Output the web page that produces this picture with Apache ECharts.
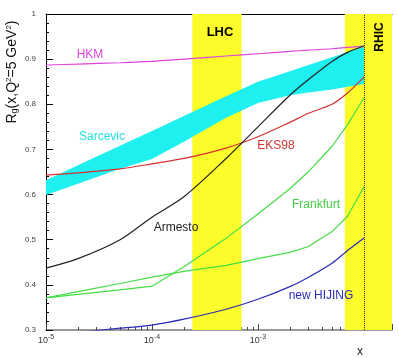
<!DOCTYPE html>
<html>
<head>
<meta charset="utf-8">
<script src="https://cdn.jsdelivr.net/npm/echarts@6/dist/echarts.min.js"></script>
<style>
  html, body { margin: 0; padding: 0; background: #fff; }
  #chart { width: 399px; height: 358px; }
</style>
</head>
<body>
<div id="chart"></div>
<script>
// x grid (shared by all curves)
const xVals = [1e-5, 2e-5, 5e-5, 1e-4, 2e-4, 5e-4, 1e-3, 2e-3, 3e-3, 5e-3, 7e-3, 1e-2];

const hkm      = [0.887, 0.889, 0.892, 0.895, 0.900, 0.907, 0.912, 0.917, 0.920, 0.923, 0.926, 0.929];
const sarcUp   = [0.632, 0.665, 0.708, 0.741, 0.774, 0.818, 0.850, 0.873, 0.887, 0.904, 0.916, 0.927];
const sarcLo   = [0.599, 0.624, 0.657, 0.679, 0.717, 0.770, 0.803, 0.820, 0.826, 0.833, 0.839, 0.845];
const eks98    = [0.643, 0.648, 0.657, 0.668, 0.680, 0.703, 0.728, 0.760, 0.780, 0.800, 0.825, 0.860];
const armesto  = [0.437, 0.458, 0.500, 0.550, 0.595, 0.680, 0.750, 0.820, 0.855, 0.895, 0.915, 0.929];
const frankA   = [0.371, 0.379, 0.389, 0.397, 0.440, 0.503, 0.557, 0.613, 0.651, 0.707, 0.755, 0.814];
const frankB   = [0.371, 0.385, 0.403, 0.417, 0.430, 0.443, 0.458, 0.472, 0.485, 0.518, 0.552, 0.617];
const hijing   = [0.289, 0.295, 0.304, 0.311, 0.324, 0.346, 0.368, 0.396, 0.417, 0.448, 0.476, 0.504];

// kinematic windows (x ranges)
const lhcRange  = [2.4e-4, 7.0e-4];
const rhicRange = [6.6e-3, 1.84e-2];
const xMin = 1e-5, xMax = 1.84e-2;
const xEdge = 1e-2;

// minor ticks of the log axis: 2..9 x 10^k
const minorX = [];
[1e-5, 1e-4, 1e-3].forEach(d => { for (let m = 2; m <= 9; m++) minorX.push(m * d); });

const FONT = '"Liberation Sans", Arial, sans-serif';
const pair = arr => xVals.map((x, i) => [x, arr[i]]);

function curve(name, arr, color, smooth) {
  return {
    name, type: 'line', data: pair(arr), symbol: 'none', smooth: smooth ? 0.3 : false,
    lineStyle: { color, width: 1.2 }, z: 4, animation: false
  };
}

function label(text, x, y, fill, font, extra) {
  return Object.assign({
    type: 'text', x, y, z: 20,
    style: { text, fill, font, align: 'center', verticalAlign: 'middle' }
  }, extra || {});
}

const chart = echarts.init(document.getElementById('chart'));

chart.setOption({
  animation: false,
  grid: { left: 46, right: 7, top: 14, bottom: 28 },
  xAxis: [
    {
      type: 'log', min: xMin, max: xMax, logBase: 10,
      axisLine: { lineStyle: { color: '#777', width: 1.5 } },
      axisTick: { inside: true, length: 6, lineStyle: { color: '#444' } },
      splitLine: { show: false },
      axisLabel: {
        margin: 4, fontFamily: FONT,
        formatter: v => v > 5e-3 ? '' : '{b|10}{e|' + Math.round(Math.log10(v)) + '}',
        rich: {
          b: { fontSize: 9, color: '#333', fontFamily: FONT },
          e: { fontSize: 7, color: '#333', fontFamily: FONT, verticalAlign: 'top', padding: [0, 0, 6, 0] }
        }
      }
    },
    {
      type: 'log', min: xMin, max: xMax, position: 'bottom',
      axisLine: { show: false },
      axisTick: { inside: true, length: 3, customValues: minorX, lineStyle: { color: '#444' } },
      axisLabel: { show: false },
      splitLine: { show: false }
    },
    {
      type: 'log', min: xMin, max: xMax, position: 'top',
      axisLine: { lineStyle: { color: '#000', width: 1 } },
      axisTick: { show: false }, axisLabel: { show: false }, splitLine: { show: false }
    }
  ],
  yAxis: {
    type: 'value', min: 0.3, max: 1.0, interval: 0.1,
    axisLine: { show: true, lineStyle: { color: '#000', width: 1 } },
    axisTick: { inside: true, length: 7, lineStyle: { color: '#000' } },
    minorTick: { show: true, splitNumber: 5, length: 3, lineStyle: { color: '#000' } },
    splitLine: { show: false },
    axisLabel: {
      fontSize: 8, color: '#444', fontFamily: FONT, margin: 10,
      formatter: v => Math.abs(v - 1) < 1e-6 ? '1' : v.toFixed(1)
    }
  },
  series: [
    {
      name: 'windows', type: 'line', data: [], z: 1, animation: false,
      markArea: {
        silent: true,
        itemStyle: { color: '#fcfc2a' },
        data: [
          [{ xAxis: lhcRange[0] }, { xAxis: lhcRange[1] }],
          [{ xAxis: rhicRange[0] }, { xAxis: rhicRange[1] }]
        ]
      },
      markLine: {
        silent: true, symbol: 'none', label: { show: false },
        lineStyle: { color: '#333', type: 'dotted', width: 1 },
        data: [{ xAxis: xEdge }]
      }
    },
    {
      // Sarcevic band: polygon between lower and upper edge
      name: 'Sarcevic', type: 'custom', data: [0], z: 3, animation: false, silent: true,
      renderItem: (params, api) => {
        const top = xVals.map((x, i) => api.coord([x, sarcUp[i]]));
        const bot = xVals.map((x, i) => api.coord([x, sarcLo[i]])).reverse();
        return { type: 'polygon', shape: { points: top.concat(bot) }, style: { fill: '#1ef0f0' } };
      }
    },
    curve('HKM', hkm, '#dd44dd', true),
    curve('EKS98', eks98, '#d63030', true),
    curve('Armesto', armesto, '#222222', true),
    curve('FrankfurtA', frankA, '#44dd44', false),
    curve('FrankfurtB', frankB, '#44dd44', false),
    curve('new HIJING', hijing, '#2a2ab8', true)
  ],
  graphic: [
    {
      type: 'text', x: 12, y: 72, rotation: Math.PI / 2, z: 20,
      style: {
        text: '{r|R}{s|g}{r|(x,Q}{p|2}{r|=5 GeV}{p|2}{r|)}',
        align: 'center', verticalAlign: 'middle', fill: '#111',
        rich: {
          r: { fontSize: 14, fontFamily: FONT, fill: '#111' },
          s: { fontSize: 9, fontFamily: FONT, fill: '#111', verticalAlign: 'bottom' },
          p: { fontSize: 8, fontFamily: FONT, fill: '#111', verticalAlign: 'top' }
        }
      }
    },
    label('HKM', 90, 55, '#dd44dd', '12px ' + FONT),
    label('Sarcevic', 102, 137, '#22e0e0', '12px ' + FONT),
    label('EKS98', 276, 146, '#d03434', '12px ' + FONT),
    label('Armesto', 176, 228, '#222', '12px ' + FONT),
    label('Frankfurt', 316, 205, '#44cc44', '12px ' + FONT),
    label('new HIJING', 321, 296, '#2a2ab8', '12px ' + FONT),
    label('LHC', 220, 32, '#000', 'bold 13px ' + FONT),
    label('RHIC', 380, 37, '#000', 'bold 12px ' + FONT, { rotation: Math.PI / 2 }),
    label('x', 360, 352, '#222', '12px ' + FONT)
  ]
});
</script>
</body>
</html>
